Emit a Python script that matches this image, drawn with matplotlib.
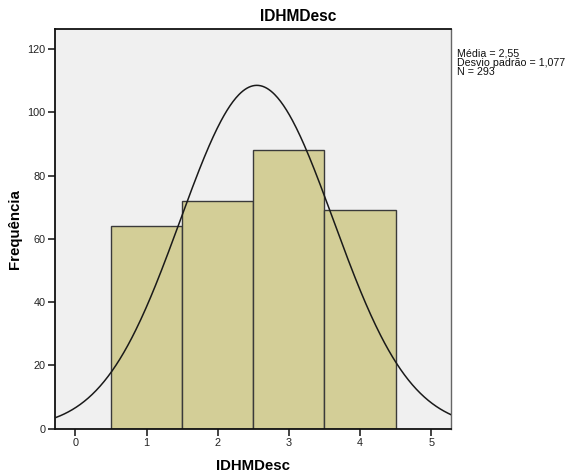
import numpy as np
import matplotlib.pyplot as plt

plt.rcParams['font.family'] = ['Liberation Sans', 'DejaVu Sans']

# frequências por classe
classes = [1, 2, 3, 4]
freq = [64, 72, 88, 69]
media = 2.55
desvio = 1.077
n_total = 293

fig = plt.figure(figsize=(5.66, 4.73), dpi=100)
ax = fig.add_axes([0.098, 0.094, 0.699, 0.845])
ax.set_facecolor('#f0f0f0')

ax.bar(classes, freq, width=1.0, color='#d3ce97', edgecolor='#3a3a3a', linewidth=1.0, zorder=2)

# curva normal ajustada (largura de classe = 1)
x = np.linspace(-0.28, 5.28, 400)
y = n_total / (desvio * np.sqrt(2 * np.pi)) * np.exp(-0.5 * ((x - media) / desvio) ** 2)
ax.plot(x, y, color='#1a1a1a', linewidth=1.1, zorder=3)

ax.set_xlim(-0.28, 5.28)
ax.set_ylim(0, 126.4)
ax.set_xticks(range(6))
ax.set_yticks(range(0, 121, 20))
ax.tick_params(direction='out', length=5, width=1.2, labelsize=7.8, colors='#222222', pad=2)

for side in ['left', 'bottom', 'top']:
    ax.spines[side].set_color('#111111')
    ax.spines[side].set_linewidth(1.3)
ax.spines['right'].set_color('#666666')
ax.spines['right'].set_linewidth(1.0)

ax.set_xlabel('IDHMDesc', fontsize=10.8, fontweight='bold', labelpad=8)
ax.set_ylabel('Frequência', fontsize=10.8, fontweight='bold', labelpad=4)

fig.text(0.527, 0.966, 'IDHMDesc', ha='center', va='center', fontsize=11.2, fontweight='bold')
fig.text(0.808, 0.897, 'Média = 2,55\nDesvio padrão = 1,077\nN = 293',
         ha='left', va='top', fontsize=7.7, linespacing=0.88, color='#111111')

fig.savefig('out.png', dpi=100, facecolor='white')
